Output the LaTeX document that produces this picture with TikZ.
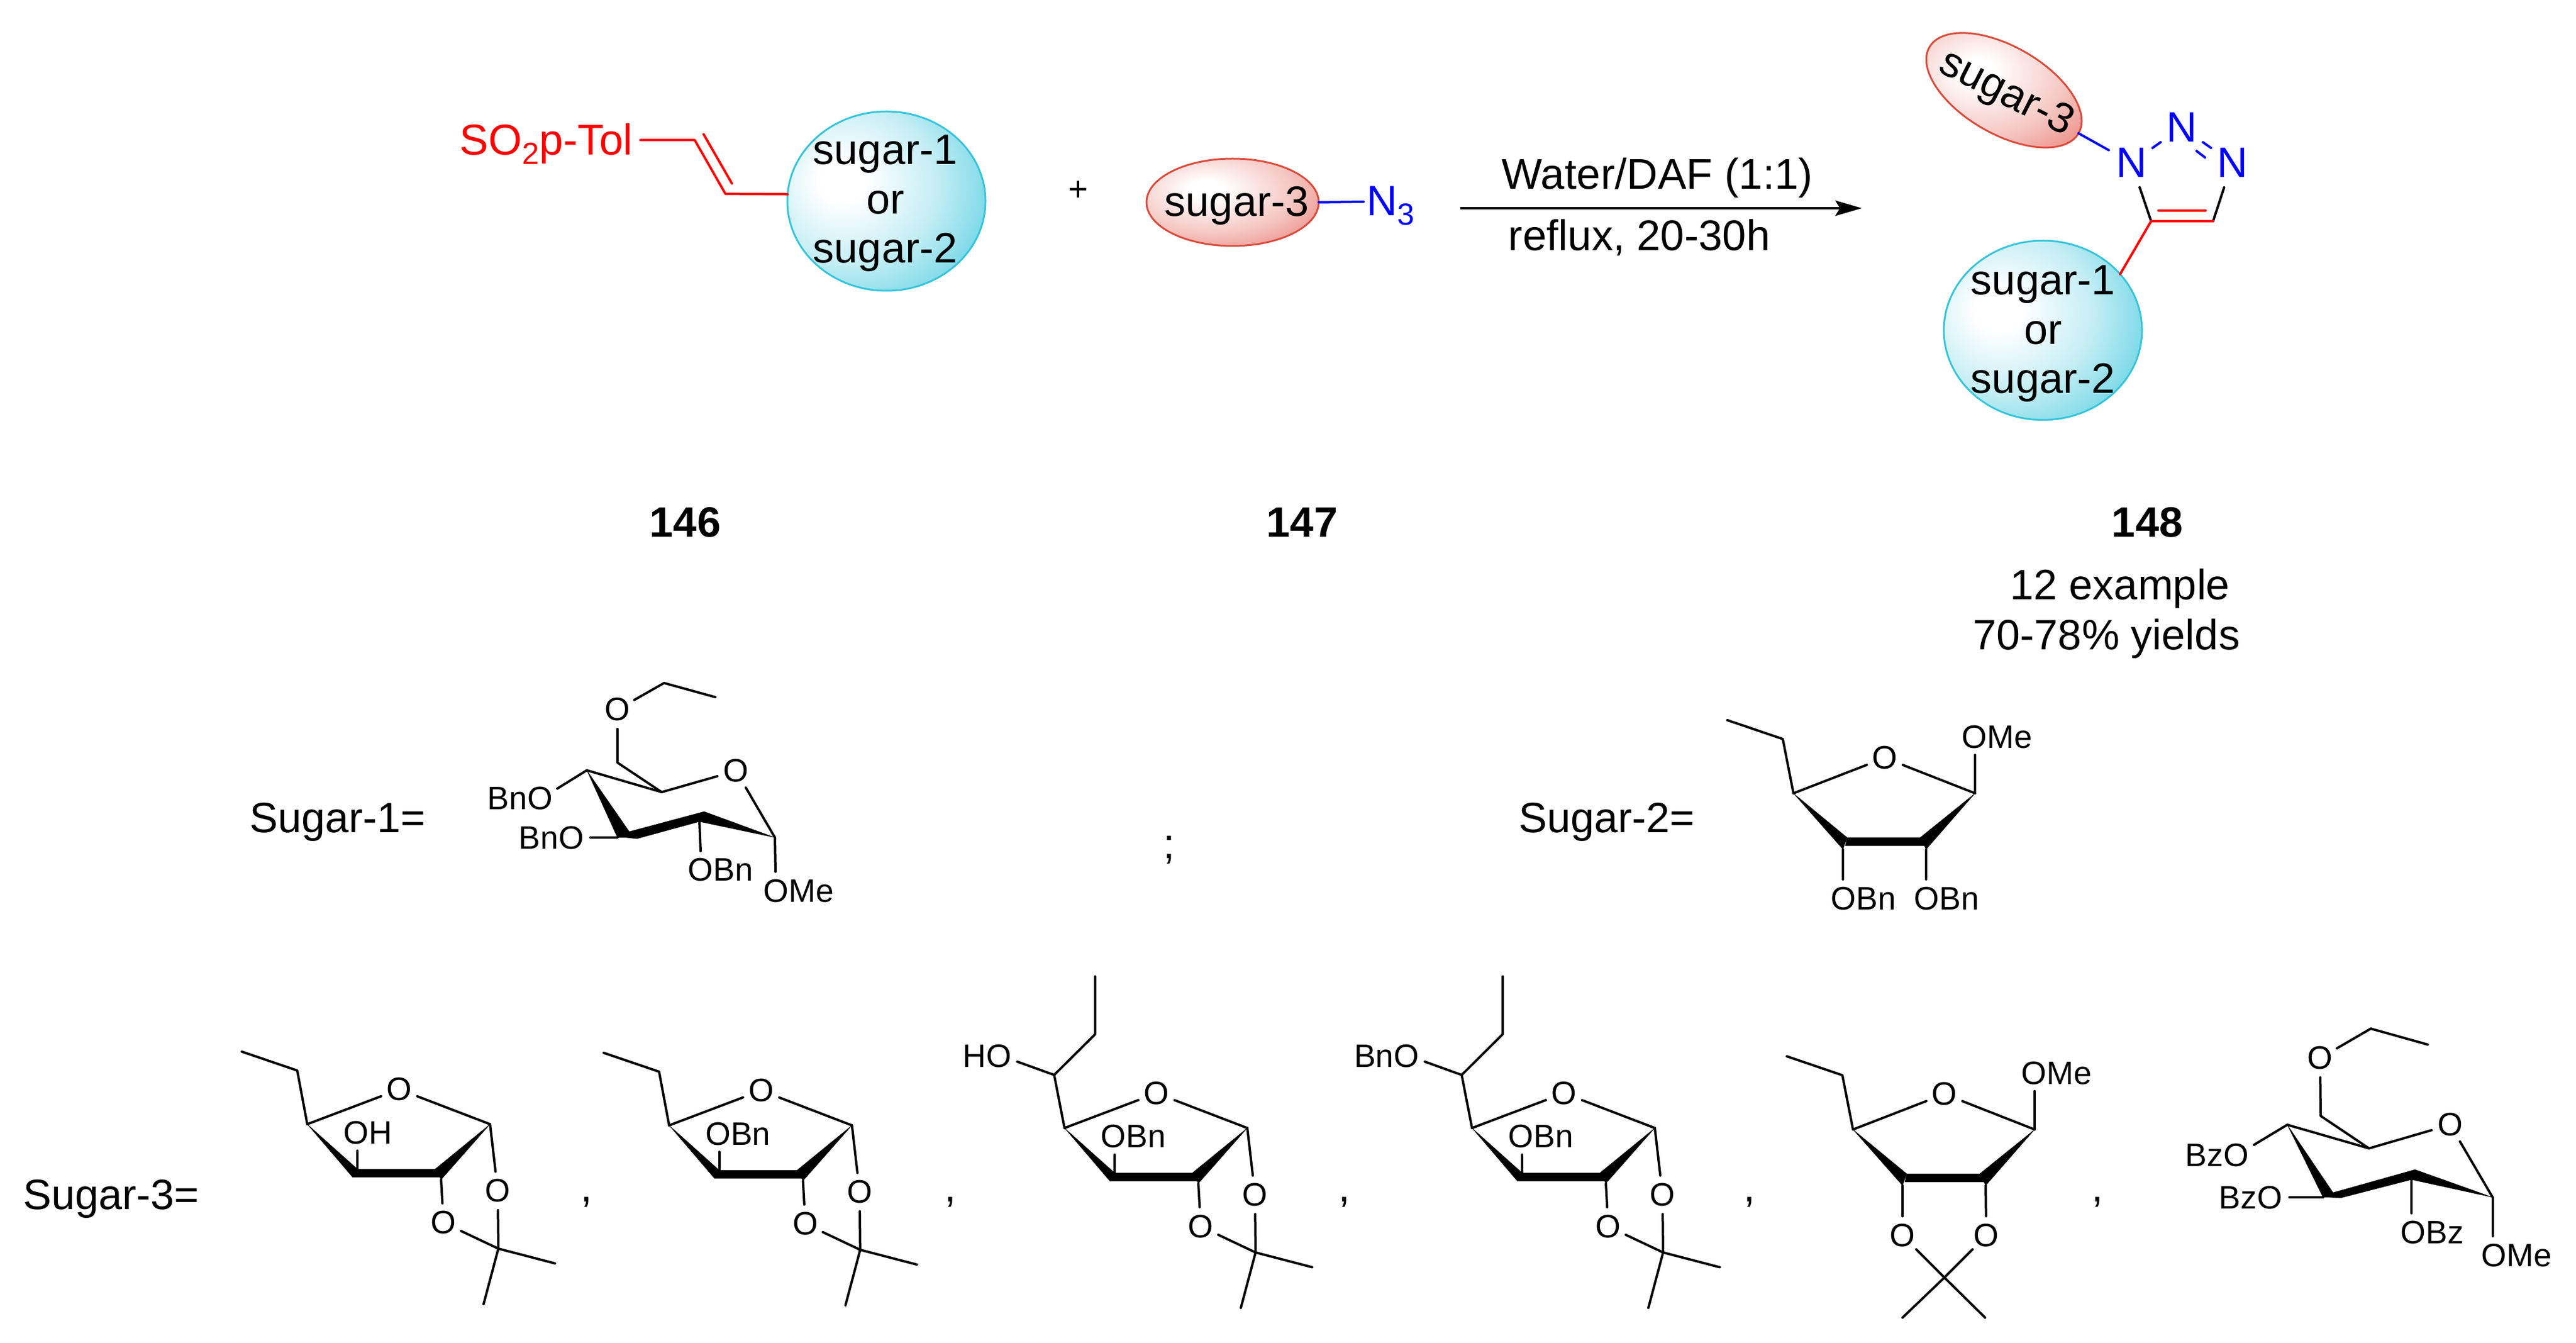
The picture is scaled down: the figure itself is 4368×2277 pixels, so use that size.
\documentclass[tikz,border=0pt]{standalone}
\usepackage{fontspec}
\setmainfont{Liberation Sans}
\usetikzlibrary{shapes.geometric,arrows.meta}
\definecolor{ballrim}{HTML}{35C5DC}
\definecolor{ballmid}{HTML}{72D6E6}
\definecolor{balllow}{HTML}{C4EEF4}
\definecolor{redrim}{HTML}{DC4A3C}
\definecolor{redmid}{HTML}{EA8379}
\definecolor{redlow}{HTML}{F5C6C1}
\pgfdeclareradialshading{bluesphere}{\pgfpoint{-12bp}{6bp}}{color(0bp)=(white);color(6bp)=(white);color(22bp)=(balllow);color(36bp)=(ballmid);color(50bp)=(ballrim);color(100bp)=(ballrim)}
\pgfdeclareradialshading{redsphere}{\pgfpoint{-8bp}{8bp}}{color(0bp)=(white);color(5bp)=(white);color(24bp)=(redlow);color(40bp)=(redmid);color(52bp)=(redrim);color(100bp)=(redrim)}
\newcommand{\lowsub}[1]{\raisebox{-4pt}{\fontsize{13}{13}\selectfont #1}}
\tikzset{
	bond/.style={line width=1pt,line cap=round,line join=round},
	blk/.style={fill=black,draw=black,line width=0.1pt,line join=round},
	txt/.style={inner sep=0pt,font=\fontsize{18}{20.9}\selectfont},
	lab/.style={inner sep=0pt,font=\fontsize{13.75}{15}\selectfont},
	atom/.style={lab,circle,minimum size=16pt},
	atomn/.style={txt,circle,minimum size=21.5pt,text=blue},
	blueball/.style={ellipse,inner sep=0pt,outer sep=0pt,minimum width=84pt,minimum height=76pt,shade,shading=bluesphere,draw=ballrim,line width=0.75pt},
	redball/.style={ellipse,inner sep=0pt,outer sep=0pt,minimum width=73pt,minimum height=37pt,shade,shading=redsphere,draw=redrim,line width=0.75pt},
	pics/ethyl/.style={code={
		\coordinate (ch) at (-173,-32);
		\coordinate (et) at (-267,-64);
		\draw[bond] (c4) -- (ch) -- (et);
	}},
	pics/sidechain/.style={code={
		\coordinate (cb) at (-173.5,-31);
		\coordinate (cc) at (-104,-100);
		\coordinate (et) at (-104,-198);
		\coordinate (oe) at (-236,-53.5);
		\node[lab,anchor=base east] (oh) at (-245,-44) {#1};
		\draw[bond] (c4) -- (cb) -- (cc) -- (et);
		\draw[bond] (cb) -- (oe);
	}},
	pics/furanose/.style={code={
		\node[atom] (o) at (0,0) {O};
		\coordinate (c4) at (-156,59);
		\coordinate (c1) at (154,59);
		\coordinate (lt) at (-71,135);
		\coordinate (lb) at (-79,149);
		\coordinate (rt) at (61,135);
		\coordinate (rb) at (71,153);
		\coordinate (rc) at (69,149);
		\coordinate (se) at (-71,104);
		\node[atom] (oa) at (167,172) {O};
		\node[atom] (ob) at (75,226) {O};
		\coordinate (cq) at (168,270);
		\coordinate (ma) at (264,295);
		\coordinate (mb) at (143,364);
		\node[lab,anchor=base west] (sb) at (-95,92) {#1};
		\fill[blk] (c4) -- (lt) -- (lb) -- cycle;
		\fill[blk] (lt) -- (rt) -- (rc) -- (lb) -- cycle;
		\fill[blk] (c1) -- (rt) -- (rb) -- cycle;
		\draw[bond] (c4) -- (o);
		\draw[bond] (o) -- (c1);
		\draw[bond] (lt) -- (se);
		\draw[bond] (c1) -- (oa);
		\draw[bond] (rb) -- (ob);
		\draw[bond] (oa) -- (cq);
		\draw[bond] (ob) -- (cq);
		\draw[bond] (cq) -- (ma);
		\draw[bond] (cq) -- (mb);
	}},
	pics/ribose/.style={code={
		\node[atom] (o) at (0,0) {O};
		\coordinate (c4) at (-155,60);
		\coordinate (c1) at (153,60);
		\coordinate (lt) at (-64,135);
		\coordinate (lb) at (-71,155);
		\coordinate (rt) at (60,135);
		\coordinate (rb) at (70,155);
		\coordinate (la) at (-67,149);
		\coordinate (rc) at (67,149);
		\coordinate (om) at (153,-5);
		\node[lab,anchor=base west] (ome) at (130,-17) {OMe};
		\fill[blk] (c4) -- (lt) -- (lb) -- cycle;
		\fill[blk] (lt) -- (rt) -- (rc) -- (la) -- cycle;
		\fill[blk] (c1) -- (rt) -- (rb) -- cycle;
		\draw[bond] (c4) -- (o);
		\draw[bond] (o) -- (c1);
		\draw[bond] (c1) -- (om);
	}}
}
\begin{document}
\begin{tikzpicture}[x=0.25pt,y=-0.25pt]
	\useasboundingbox (0,0) rectangle (4368,2277);
	% top scheme
	\node[blueball] (balla) at (1503,341) {};
	\node[txt,align=center] (ballatxt) at (1501,345) {sugar-1\\or\\sugar-2};
	\node[txt,font=\fontsize{18.3}{20.9}\selectfont,anchor=base west,text=red] (tol) at (779,262.5) {SO\lowsub{2}p-Tol};
	\coordinate (tolend) at (1086,237.5);
	\coordinate (va) at (1178,237.5);
	\coordinate (vb) at (1230,328.6);
	\coordinate (vc) at (1193,227.5);
	\coordinate (vd) at (1241,311);
	\draw[bond,red] (tolend) -- (va) -- (vb) -- (balla.176);
	\draw[bond,red] (vc) -- (vd);
	\node[font=\fontsize{14.5}{15}\selectfont,anchor=base,inner sep=0pt] (plus) at (1828,341) {+};
	\node[redball] (reda) at (2090,343) {};
	\node[txt,anchor=base] (redatxt) at (2097,367) {sugar-3};
	\node[txt,anchor=base west,text=blue] (azide) at (2317,366) {N\lowsub{3}};
	\coordinate (azend) at (2312,342);
	\draw[bond,blue] (reda.east) -- (azend);
	% arrow
	\coordinate (arrs) at (2475.5,353);
	\coordinate (arre) at (3157,353);
	\draw[line width=1pt,-{Stealth[length=11.25pt,width=6.5pt,inset=2pt]}] (arrs) -- (arre);
	\node[txt,font=\fontsize{18.2}{20.9}\selectfont,anchor=base west] (cond) at (2546,320.7) {Water/DAF (1:1)};
	\node[txt,font=\fontsize{18.15}{20.9}\selectfont,anchor=base west] (reflux) at (2557,425) {reflux, 20-30h};
	% product
	\node[redball,rotate=-30] (redb) at (3398,153) {};
	\node[txt,rotate=-27] (redbtxt) at (3401,160) {sugar-3};
	\node[atomn] (na) at (3614,276) {N};
	\node[atomn] (nb) at (3699.5,216) {N};
	\node[atomn] (nc) at (3785,276) {N};
	\coordinate (ca) at (3647.5,375);
	\coordinate (cb) at (3752.6,375);
	\coordinate (nda) at (3724.5,256);
	\coordinate (ndb) at (3739,267);
	\coordinate (cda) at (3660,356.8);
	\coordinate (cdb) at (3740,356.8);
	\node[blueball] (ballb) at (3464,560) {};
	\node[txt,align=center] (ballbtxt) at (3464,566) {sugar-1\\or\\sugar-2};
	\draw[bond,blue] (redb.east) -- (na);
	\draw[bond,blue] (na) -- (nb);
	\draw[bond,blue] (nb) -- (nc);
	\draw[bond,blue] (nda) -- (ndb);
	\draw[bond] (na) -- (ca);
	\draw[bond] (nc) -- (cb);
	\draw[bond,red] (ca) -- (cb);
	\draw[bond,red] (cda) -- (cdb);
	\draw[bond,red] (ca) -- (ballb.36);
	% numbers
	\node[txt,font=\fontsize{18}{20.9}\selectfont\bfseries,anchor=base] (nta) at (1162,911) {146};
	\node[txt,font=\fontsize{18}{20.9}\selectfont\bfseries,anchor=base] (ntb) at (2208,911) {147};
	\node[txt,font=\fontsize{18}{20.9}\selectfont\bfseries,anchor=base] (ntc) at (3641,911) {148};
	\node[txt,anchor=base] (expl) at (3595,1017) {12 example};
	\node[txt,anchor=base] (yld) at (3572,1101) {70-78\% yields};
	\node[txt,anchor=base west] (sga) at (423,1411) {Sugar-1=};
	\node[txt,anchor=base west] (sgb) at (2575,1411) {Sugar-2=};
	\node[txt,anchor=base west] (sgc) at (39,2050) {Sugar-3=};
	\node[txt,anchor=base] (semi) at (1982,1455) {;};
	\foreach \x in {994,1611,2279,2966,3556} % commas of the last row
	\node[txt,anchor=base] at (\x,2037) {,};
	% sugar-1
	\node[atom] (aox) at (1047,1203) {O};
	\node[atom] (aor) at (1248,1307) {O};
	\coordinate (aet) at (1213,1182);
	\coordinate (acm) at (1126,1158);
	\coordinate (acs) at (1047,1293);
	\coordinate (acf) at (1122,1343);
	\coordinate (acd) at (995,1306);
	\coordinate (aca) at (1314,1420);
	\coordinate (abt) at (1194,1376);
	\coordinate (abb) at (1186,1393);
	\coordinate (abl) at (1080,1422);
	\coordinate (abk) at (1062,1420);
	\coordinate (act) at (1067,1410);
	\coordinate (acb) at (1047,1420);
	\fill[blk] (aca) -- (abt) -- (abb) -- cycle;
	\fill[blk] (abt) -- (abb) -- (abl) -- (abk) -- (act) -- cycle;
	\fill[blk] (acd) -- (act) -- (abk) -- (acb) -- cycle;
	\draw[bond] (aet) -- (acm) -- (aox);
	\draw[bond] (aox) -- (acs) -- (acf) -- (aor);
	\draw[bond] (acd) -- (acf);
	\draw[bond] (aor) -- (aca);
	\node[lab,anchor=base west] (abna) at (826,1372) {BnO};
	\node[lab,anchor=base west] (abnb) at (879,1439) {BnO};
	\node[lab,anchor=base west] (abnc) at (1166,1493) {OBn};
	\node[lab,anchor=base west] (aome) at (1294,1529) {OMe};
	\coordinate (aea) at (945,1337);
	\coordinate (aeb) at (1001,1420);
	\coordinate (aec) at (1188,1443);
	\coordinate (aed) at (1315,1478);
	\draw[bond] (acd) -- (aea);
	\draw[bond] (acb) -- (aeb);
	\draw[bond] (abb) -- (aec);
	\draw[bond] (aca) -- (aed);
	% sugar-2
	\pic (rs-) at (3196,1285) {ribose};
	\pic (rs-) at (3196,1285) {ethyl};
	\coordinate (rea) at (3125,1491);
	\coordinate (reb) at (3266,1491);
	\node[lab,anchor=base west] (rba) at (3104,1542) {OBn};
	\node[lab,anchor=base west] (rbb) at (3245,1542) {OBn};
	\draw[bond] (rs-lb) -- (rea);
	\draw[bond] (rs-rb) -- (reb);
	% sugar-3 row
	\foreach \nm/\x/\y/\sb in {fa/677/1847/OH,fb/1290.6/1849/OBn,fc/1961/1853.5/OBn,fd/2652/1853.5/OBn}
	\pic (\nm-) at (\x,\y) {furanose=\sb};
	\pic (fa-) at (677,1847) {ethyl};
	\pic (fb-) at (1290.6,1849) {ethyl};
	\pic (fc-) at (1961,1853.5) {sidechain=HO};
	\pic (fd-) at (2652,1853.5) {sidechain=BnO};
	\pic (rt-) at (3297,1855) {ribose};
	\pic (rt-) at (3297,1855) {ethyl};
	\node[atom] (roa) at (3226,2095) {O};
	\node[atom] (rob) at (3368,2095) {O};
	\coordinate (rcq) at (3297,2166);
	\coordinate (rma) at (3226,2234);
	\coordinate (rmb) at (3366,2234);
	\draw[bond] (rt-lb) -- (roa);
	\draw[bond] (rt-rb) -- (rob);
	\draw[bond] (roa) -- (rcq) -- (rmb);
	\draw[bond] (rob) -- (rcq) -- (rma);
	% last sugar-3
	\node[atom] (gox) at (3934,1794) {O};
	\node[atom] (gor) at (4154.6,1907) {O};
	\coordinate (get) at (4116.5,1771);
	\coordinate (gcm) at (4020,1744);
	\coordinate (gcs) at (3935,1892);
	\coordinate (gcf) at (4017,1947);
	\coordinate (gcd) at (3878.4,1907);
	\coordinate (gca) at (4226.6,2030);
	\coordinate (gbt) at (4095,1983);
	\coordinate (gbb) at (4089,2000);
	\coordinate (gbl) at (3969,2031);
	\coordinate (gbk) at (3950,2030);
	\coordinate (gct) at (3956,2022);
	\coordinate (gcb) at (3939,2030);
	\fill[blk] (gca) -- (gbt) -- (gbb) -- cycle;
	\fill[blk] (gbt) -- (gbb) -- (gbl) -- (gbk) -- (gct) -- cycle;
	\fill[blk] (gcd) -- (gct) -- (gbk) -- (gcb) -- cycle;
	\draw[bond] (get) -- (gcm) -- (gox);
	\draw[bond] (gox) -- (gcs) -- (gcf) -- (gor);
	\draw[bond] (gcd) -- (gcf);
	\draw[bond] (gor) -- (gca);
	\node[lab,anchor=base west] (gbza) at (3705,1977) {BzO};
	\node[lab,anchor=base west] (gbzb) at (3762,2049) {BzO};
	\node[lab,anchor=base west] (gbzc) at (4070,2108) {OBz};
	\node[lab,anchor=base west] (gome) at (4207,2147) {OMe};
	\coordinate (gea) at (3822,1941);
	\coordinate (geb) at (3882,2030);
	\coordinate (gec) at (4089,2057);
	\coordinate (ged) at (4226.6,2096);
	\draw[bond] (gcd) -- (gea);
	\draw[bond] (gcb) -- (geb);
	\draw[bond] (gbb) -- (gec);
	\draw[bond] (gca) -- (ged);
\end{tikzpicture}
\end{document}
